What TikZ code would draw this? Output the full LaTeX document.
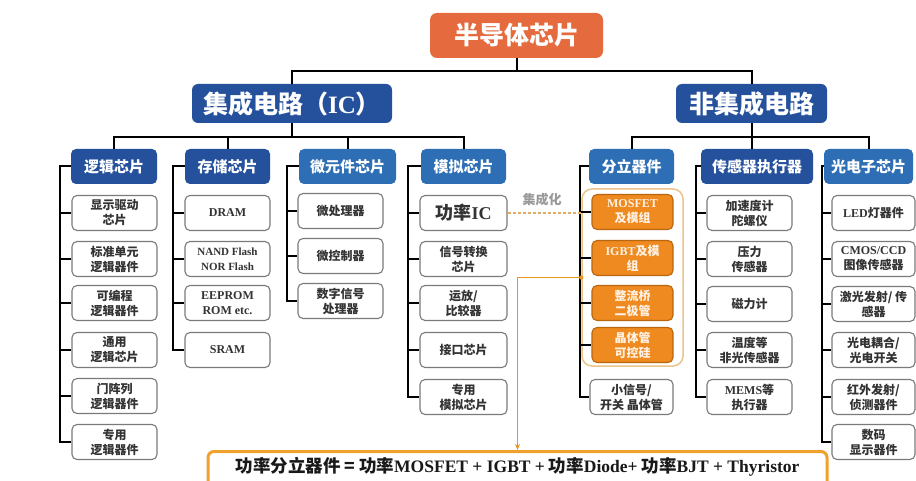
\documentclass[tikz,border=0pt]{standalone}
\usepackage{fontspec}
\setmainfont{Noto Sans CJK SC}
\newfontfamily\latf{Liberation Serif}
\newcommand\lt[1]{{\latf\bfseries #1}}
\usetikzlibrary{arrows.meta}
\definecolor{rootc}{HTML}{E56B3E}
\definecolor{darkb}{HTML}{24509C}
\definecolor{medb}{HTML}{2D6EB5}
\definecolor{orf}{HTML}{EE8A1F}
\definecolor{ord}{HTML}{B8660F}
\definecolor{grpc}{HTML}{EBC48A}
\definecolor{olinec}{HTML}{E8961E}
\definecolor{dlinec}{HTML}{E3AE62}
\definecolor{eqc}{HTML}{F0A02C}
\definecolor{leafd}{HTML}{7A7A7A}
\definecolor{leaft}{HTML}{333333}
\definecolor{labc}{HTML}{9A9A9A}
\begin{document}
\begin{tikzpicture}[x=1pt,y=-1pt,
 rootbox/.style={fill=rootc, text=white, rounded corners=7pt, minimum width=173pt, minimum height=45pt, inner sep=0pt, font=\fontsize{25}{28}\selectfont\bfseries},
 bigbox/.style={fill=darkb, text=white, rounded corners=6pt, minimum height=39pt, inner sep=0pt, font=\fontsize{25}{28}\selectfont\bfseries},
 hdrbox/.style={fill=#1, text=white, rounded corners=5pt, minimum height=35pt, inner sep=0pt, font=\fontsize{15}{18}\selectfont\bfseries},
 leafbox/.style={draw=leafd, line width=1.1pt, fill=white, rounded corners=5pt, minimum width=85pt, minimum height=35pt, inner sep=1pt, align=center, text=leaft, font=\fontsize{12}{15}\selectfont\bfseries},
 orbox/.style={leafbox, fill=orf, draw=ord, text=white!90!orange, minimum width=81pt},
 grpbox/.style={draw=grpc, line width=1.5pt, rounded corners=10pt, minimum width=101pt, minimum height=177pt, inner sep=0pt},
 eqbox/.style={draw=eqc, line width=3pt, fill=white, rounded corners=6pt, minimum width=619pt, minimum height=50pt, inner sep=0pt},
 conn/.style={line width=2pt, black},
 dconn/.style={draw=dlinec, line width=1.3pt, dash pattern=on 3pt off 2pt},
 orconn/.style={draw=olinec, line width=1.5pt},
]
\useasboundingbox (0,0) rectangle (916,481);
\fill[white] (0,0) rectangle (916,481);
\clip (0,0) rectangle (916,481);

% top levels
\node[rootbox] (root) at (516.5,35.5) {半导体芯片};
\node[bigbox, minimum width=200pt] (ic) at (292,103.5) {集成电路（\lt{IC}）};
\node[bigbox, minimum width=151pt] (nic) at (751.5,103.5) {非集成电路};

% headers
\node[hdrbox=darkb, minimum width=86pt] (logic) at (114,166.5) {逻辑芯片};
\node[hdrbox=darkb, minimum width=85pt] (stor) at (227.5,166.5) {存储芯片};
\node[hdrbox=medb, minimum width=97pt] (micro) at (347.5,166.5) {微元件芯片};
\node[hdrbox=medb, minimum width=85pt] (ana) at (463.5,166.5) {模拟芯片};
\node[hdrbox=medb, minimum width=85pt] (disc) at (631.5,166.5) {分立器件};
\node[hdrbox=darkb, minimum width=112pt] (sens) at (757,166.5) {传感器执行器};
\node[hdrbox=medb, minimum width=89pt] (opto) at (868.5,166.5) {光电子芯片};

% tree connectors
\draw[conn] (root.south) -- ++(0,13) coordinate (rj);
\draw[conn] (ic.north) |- (rj) -| (nic.north);
\draw[conn] (ic.south) -- ++(0,14) coordinate (icj);
\draw[conn] (logic.north) |- (icj) -| (ana.north);
\draw[conn] (stor.north) -- (stor.north |- icj);
\draw[conn] (micro.north) -- (micro.north |- icj);
\draw[conn] (nic.south) -- ++(0,14) coordinate (nj);
\draw[conn] (disc.north) |- (nj) -| (opto.north);
\draw[conn] (nj) -- (nj |- sens.north);

% vertical bracket positions
\coordinate (vL) at (60,0);
\coordinate (vS) at (173,0);
\coordinate (vM) at (287,0);
\coordinate (vA) at (408,0);
\coordinate (vD) at (580,0);
\coordinate (vE) at (696,0);
\coordinate (vO) at (822,0);

% logic leaves
\node[leafbox] (l1) at (114.5,213) {显示驱动\\芯片};
\node[leafbox] (l2) at (114.5,259) {标准单元\\逻辑器件};
\node[leafbox] (l3) at (114.5,303) {可编程\\逻辑器件};
\node[leafbox] (l4) at (114.5,350) {通用\\逻辑芯片};
\node[leafbox] (l5) at (114.5,396) {门阵列\\逻辑器件};
\node[leafbox] (l6) at (114.5,442) {专用\\逻辑器件};
\draw[conn] (logic.west) -- (logic.west -| vL) |- (l6.west);
\foreach \n in {l1,l2,l3,l4,l5} \draw[conn] (\n.west -| vL) -- (\n.west);

% storage leaves
\node[leafbox] (s1) at (227.5,213) {\lt{DRAM}};
\node[leafbox] (s2) at (227.5,259) {\fontsize{11}{14}\selectfont\lt{NAND Flash}\\\fontsize{11}{14}\selectfont\lt{NOR Flash}};
\node[leafbox] (s3) at (227.5,303) {\lt{EEPROM}\\\lt{ROM etc.}};
\node[leafbox] (s4) at (227.5,350) {\lt{SRAM}};
\draw[conn] (stor.west) -- (stor.west -| vS) |- (s4.west);
\foreach \n in {s1,s2,s3} \draw[conn] (\n.west -| vS) -- (\n.west);

% micro leaves
\node[leafbox] (m1) at (340.5,211) {微处理器};
\node[leafbox] (m2) at (340.5,256) {微控制器};
\node[leafbox] (m3) at (340.5,301) {数字信号\\处理器};
\draw[conn] (micro.west) -- (micro.west -| vM) |- (m3.west);
\foreach \n in {m1,m2} \draw[conn] (\n.west -| vM) -- (\n.west);

% analog leaves
\node[leafbox, minimum width=87pt] (a1) at (463.5,213) {\fontsize{18}{20}\selectfont 功率\lt{IC}};
\node[leafbox, minimum width=87pt] (a2) at (463.5,259) {信号转换\\芯片};
\node[leafbox, minimum width=87pt] (a3) at (463.5,303) {运放/\\比较器};
\node[leafbox, minimum width=87pt] (a4) at (463.5,350) {接口芯片};
\node[leafbox, minimum width=87pt] (a5) at (463.5,397) {专用\\模拟芯片};
\draw[conn] (ana.west) -- (ana.west -| vA) |- (a5.west);
\foreach \n in {a1,a2,a3,a4} \draw[conn] (\n.west -| vA) -- (\n.west);

% discrete leaves
\node[grpbox] (grp) at (632.5,277.5) {};
\node[orbox] (d1) at (632.5,212) {\lt{MOSFET}\\及模组};
\node[orbox] (d2) at (632.5,258) {\lt{IGBT}及模\\组};
\node[orbox] (d3) at (632.5,303) {整流桥\\二极管};
\node[orbox] (d4) at (632.5,345) {晶体管\\可控硅};
\node[leafbox, minimum width=83pt] (d5) at (631.5,397) {小信号/\\开关 晶体管};
\draw[conn] (disc.west) -- (disc.west -| vD) |- (d5.west);
\foreach \n in {d1,d2,d3,d4} \draw[conn] (\n.west -| vD) -- (\n.west);

% sensor leaves
\node[leafbox] (e1) at (749.5,213) {加速度计\\陀螺仪};
\node[leafbox] (e2) at (749.5,259) {压力\\传感器};
\node[leafbox] (e3) at (749.5,304) {磁力计};
\node[leafbox] (e4) at (749.5,350) {温度等\\非光传感器};
\node[leafbox] (e5) at (749.5,397) {\lt{MEMS}等\\执行器};
\draw[conn] (sens.west) -- (sens.west -| vE) |- (e5.west);
\foreach \n in {e1,e2,e3,e4} \draw[conn] (\n.west -| vE) -- (\n.west);

% opto leaves
\node[leafbox, minimum width=83pt] (o1) at (873.5,213) {\lt{LED}灯器件};
\node[leafbox, minimum width=83pt] (o2) at (873.5,259) {\lt{CMOS/CCD}\\图像传感器};
\node[leafbox, minimum width=83pt] (o3) at (873.5,304) {激光发射/ 传\\感器};
\node[leafbox, minimum width=83pt] (o4) at (873.5,350) {光电耦合/\\光电开关};
\node[leafbox, minimum width=83pt] (o5) at (873.5,397) {红外发射/\\侦测器件};
\node[leafbox, minimum width=83pt] (o6) at (873.5,442) {数码\\显示器件};
\draw[conn] (opto.west) -- (opto.west -| vO) |- (o6.west);
\foreach \n in {o1,o2,o3,o4,o5} \draw[conn] (\n.west -| vO) -- (\n.west);

% integration link
\draw[dconn] (a1.east) -- (a1.east -| grp.west);
\node[text=labc, font=\fontsize{13}{15}\selectfont\bfseries] (jch) at (542,200) {集成化};

% bottom formula
\node[eqbox, anchor=north] (eqb) at (517.5,450) {};
\node[font=\fontsize{17.5}{20}\selectfont\bfseries, text=black!90] (eq) at (517.5,467) {功率分立器件 = 功率\lt{MOSFET + IGBT +} 功率\lt{Diode+} 功率\lt{BJT + Thyristor}};
\draw[orconn, -{Stealth[length=6pt,width=5pt]}] (grp.west) -| (eqb.north);
\fill[olinec] (grp.west) circle (2.2pt);
\end{tikzpicture}
\end{document}
